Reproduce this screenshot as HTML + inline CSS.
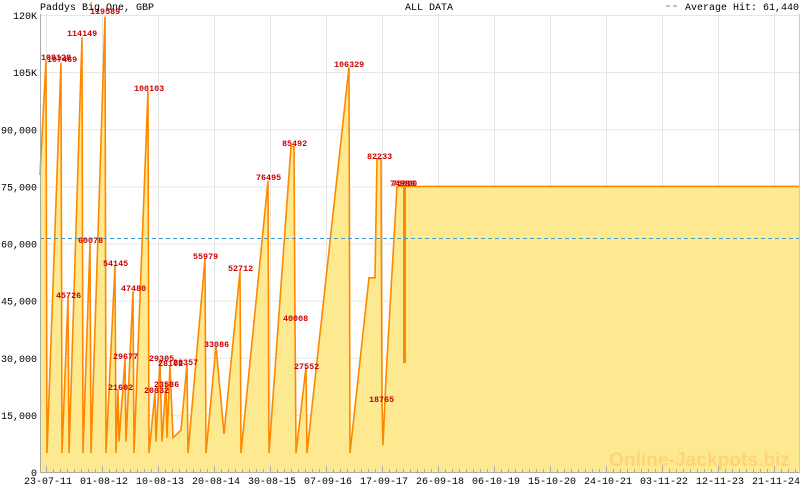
<!DOCTYPE html>
<html><head><meta charset="utf-8"><style>
body{margin:0;background:#fff;width:800px;height:490px;overflow:hidden}
svg{display:block}
.t{font-family:"Liberation Mono",monospace;font-size:10px;fill:#000}
.l{font-family:"Liberation Mono",monospace;font-size:8.4px;fill:#cc0000;font-weight:bold}
</style></head><body>
<svg id="s" width="800" height="490" xmlns="http://www.w3.org/2000/svg">
<g id="grid" stroke="#e6e6e6" stroke-width="1"></g>
<path id="area" fill="#fde98f" stroke="none"/>
<path id="line" fill="none" stroke="#ff8800" stroke-width="1.6"/>
<rect x="403" y="187" width="3" height="176" fill="#ff8800"/>
<line x1="40" y1="238.5" x2="800" y2="238.5" stroke="#3a9bd0" stroke-dasharray="4,3" stroke-width="1"/>
<text x="609" y="466" font-family="Liberation Sans,sans-serif" font-weight="bold" font-size="19" fill="#ffcf70" opacity="0.8" textLength="181" lengthAdjust="spacingAndGlyphs">Online-Jackpots.biz</text>
<g id="labels"></g>
<line x1="40.5" y1="14" x2="40.5" y2="472" stroke="#aaa"/>
<line x1="40" y1="472.5" x2="800" y2="472.5" stroke="#aaa"/>
<line x1="799.5" y1="14" x2="799.5" y2="472" stroke="#ccc"/>
<g id="ticks" stroke="#aaa"></g>
<text class="t" x="40" y="10">Paddys Big One, GBP</text>
<text class="t" x="405" y="10">ALL DATA</text>
<line x1="666" y1="6" x2="680" y2="6" stroke="#3a9bd0" stroke-dasharray="4,3"/>
<text class="t" x="685" y="10">Average Hit: 61,440</text>
<g id="yl" class="t" text-anchor="end"></g>
<g id="xl" class="t" text-anchor="middle"></g>
</svg>
<script>
var Y=function(v){return 472-v*457/120000;};
var ns="http://www.w3.org/2000/svg";
function el(p,n,a,t){var e=document.createElementNS(ns,n);for(var k in a)e.setAttribute(k,a[k]);if(t)e.textContent=t;document.getElementById(p).appendChild(e);}
var yv=[[120000,"120K"],[105000,"105K"],[90000,"90,000"],[75000,"75,000"],[60000,"60,000"],[45000,"45,000"],[30000,"30,000"],[15000,"15,000"],[0,"0"]];
yv.forEach(function(a){var y=Y(a[0]);if(a[0]>0)el("grid","line",{x1:40,x2:800,y1:y+0.5,y2:y+0.5});el("yl","text",{x:37,y:y+4},a[1]);});
var dl=["23-07-11","01-08-12","10-08-13","20-08-14","30-08-15","07-09-16","17-09-17","26-09-18","06-10-19","15-10-20","24-10-21","03-11-22","12-11-23","21-11-24"];
dl.forEach(function(d,i){var x=46+56*i;el("grid","line",{x1:x+0.5,x2:x+0.5,y1:14,y2:472});el("xl","text",{x:x+2,y:484},d);el("ticks","line",{x1:x+0.5,x2:x+0.5,y1:466,y2:472});});
for(var x=46;x<800;x+=7)el("ticks","line",{x1:x+0.5,x2:x+0.5,y1:469,y2:472});
var P=[[40,78000],[46,108128],[47,5000],[61,107469],[62,5000],[68,45726],[69,5000],[82,114149],[83,5000],[90,60078],[91,5000],[105,119589],[106,5000],[115,54145],[116,5000],[118,21602],[119,8000],[125,29677],[126,8000],[133,47480],[134,5000],[148,100103],[149,5000],[155,20832],[156,8000],[160,29305],[162,8000],[166,23586],[167,9000],[170,28102],[173,9000],[181,11000],[187,28357],[188,5000],[205,55979],[206,5000],[216,33086],[224,10000],[240,52712],[241,5000],[268,76495],[269,5000],[291,85492],[294,85492],[295,40008],[296,5000],[306,27552],[307,5000],[349,106329],[350,5000],[369,51000],[375,51000],[377,82233],[381,82233],[382,18765],[383,7000],[386,25000],[397,75000],[800,75000]];
var d="";P.forEach(function(p,i){d+=(i?"L":"M")+p[0]+","+Y(p[1]).toFixed(1);});
document.getElementById("line").setAttribute("d",d);
document.getElementById("area").setAttribute("d",d+"L800,472L40,472Z");
var L=[[41,60,"108128"],[47,62,"107469"],[56,298,"45726"],[67,36,"114149"],[78,243,"60078"],[90,14,"119589"],[103,266,"54145"],[108,390,"21602"],[113,359,"29677"],[121,291,"47480"],[134,91,"100103"],[144,393,"20832"],[149,361,"29305"],[154,387,"23586"],[158,366,"28102"],[173,365,"28357"],[193,259,"55979"],[204,347,"33086"],[228,271,"52712"],[256,180,"76495"],[282,146,"85492"],[283,321,"40008"],[294,369,"27552"],[334,67,"106329"],[367,159,"82233"],[369,402,"18765"],[390,186,"74986"],[392,186,"75000"]];
L.forEach(function(a){el("labels","text",{x:a[0],y:a[1],"class":"l"},a[2]);});
</script>
</body></html>
